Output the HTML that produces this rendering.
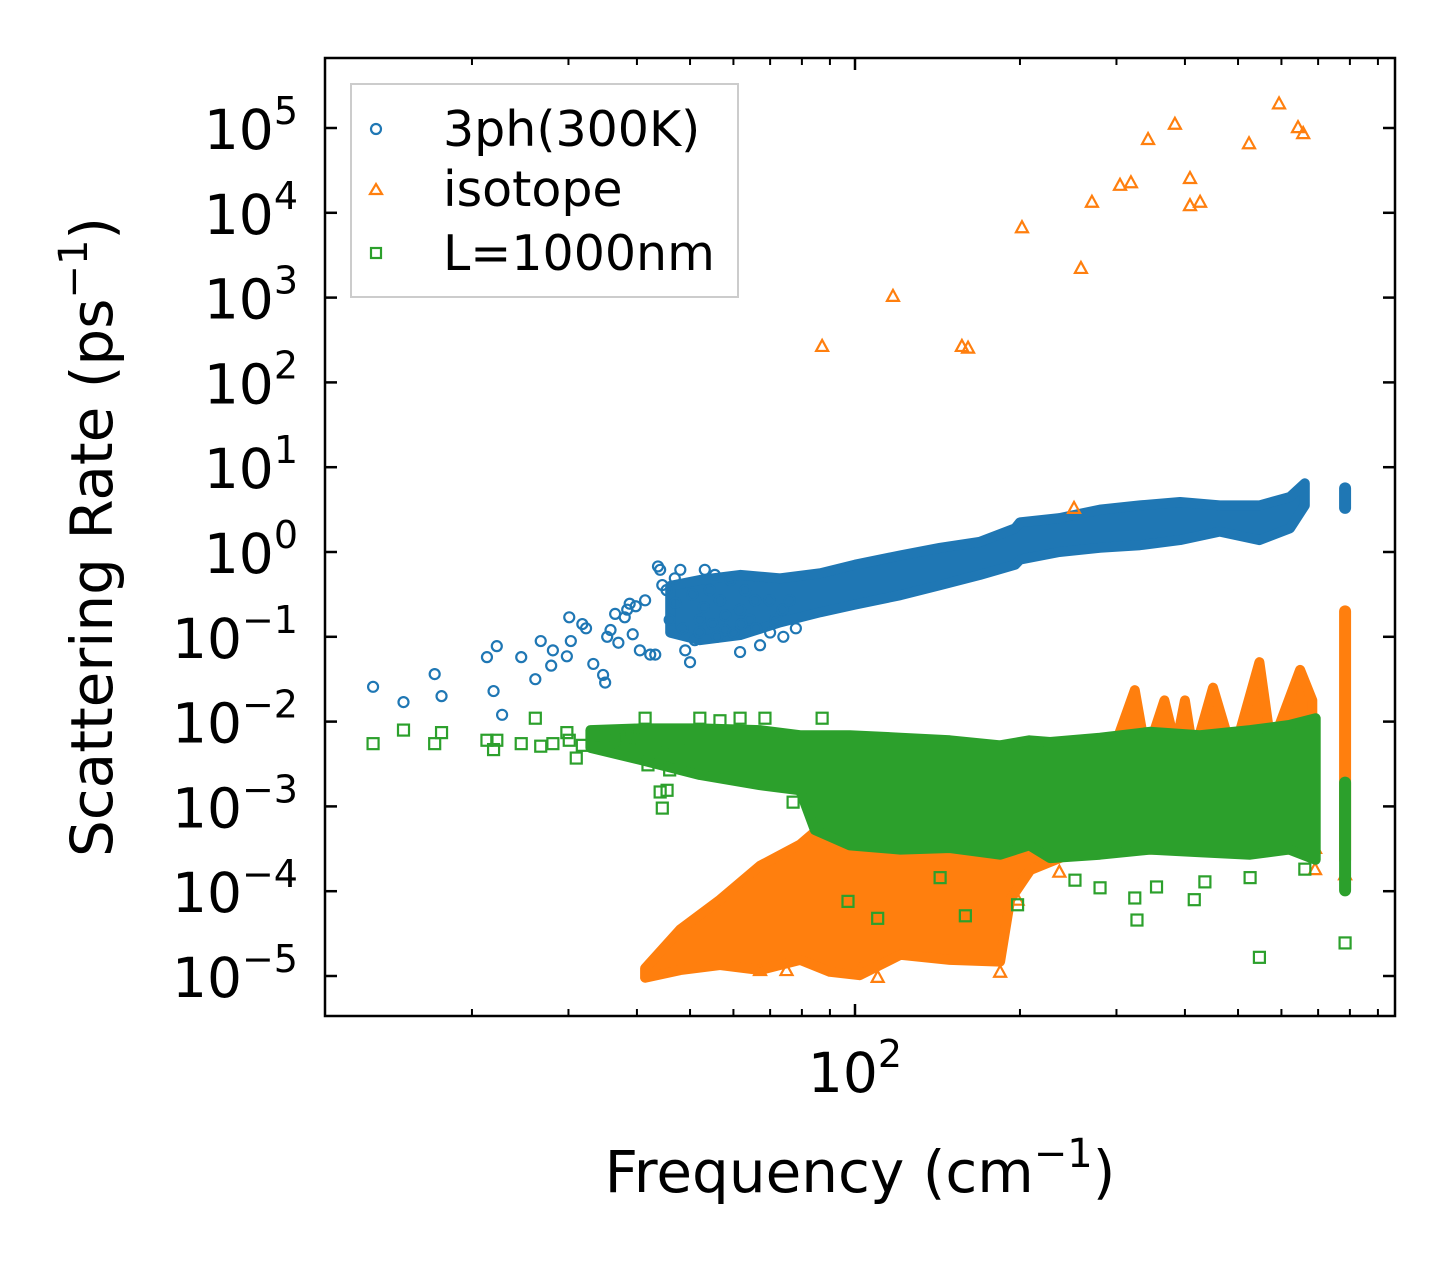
<!DOCTYPE html>
<html><head><meta charset="utf-8"><style>
html,body{margin:0;padding:0;background:#fff;}
svg text{font-family:"DejaVu Sans","Liberation Sans",sans-serif;fill:#000;}
</style></head><body>
<svg id="chart" width="1455" height="1265" viewBox="0 0 1455 1265" xmlns="http://www.w3.org/2000/svg">
<rect width="1455" height="1265" fill="#fff"/>
<defs><clipPath id="plotclip"><rect x="325" y="58" width="1070" height="958"/></clipPath></defs>
<g id="marks" clip-path="url(#plotclip)"></g>
<g id="axes"></g>
<g id="legend">
  <rect x="351" y="84" width="387" height="213" fill="#fff" fill-opacity="0.8" stroke="#ccc" stroke-width="2"/>
  <circle cx="376" cy="129" r="5" fill="none" stroke="#1f77b4" stroke-width="2.2"/>
  <text x="443" y="146" font-size="49">3ph(300K)</text>
  <path d="M370,194 L382,194 L376,184 Z" fill="none" stroke="#ff7f0e" stroke-width="2.2"/>
  <text x="443" y="206" font-size="49">isotope</text>
  <rect x="371" y="248" width="10" height="10" fill="none" stroke="#2ca02c" stroke-width="2.2"/>
  <text x="443" y="270" font-size="49">L=1000nm</text>
</g>
</svg>
<script>
// ---- data (frequency in cm^-1, log10 of scattering rate in ps^-1) ----
const blueFreq = [13.2,15.0,17.1,17.6,21.3,21.9,22.2,22.7,24.6,26.1,26.7,27.9,28.1,29.8,30.3,30.1,31.8,32.3,33.3,34.7,35.0,35.3,35.8,36.5,37.0,38.0,38.4,38.8,39.3,39.8,40.5,41.4,42.3,43.2,43.7,44.1,44.5,45.3,45.9,46.9,48.0,49.0,50.0,51.0,52.1,53.2,54.3,55.5,56.7,57.9,59.2,61.7,61.7,63.0,64.3,65.7,67.1,69.8,71.5,73.7,76.0,47,48.5,50.5,52,53,55,56,58,60,62,66,70,74,78];
const blueLog = [-1.59,-1.77,-1.44,-1.70,-1.24,-1.64,-1.11,-1.92,-1.24,-1.50,-1.05,-1.34,-1.16,-1.23,-1.05,-0.77,-0.85,-0.90,-1.32,-1.45,-1.54,-1.00,-0.92,-0.73,-1.07,-0.77,-0.68,-0.61,-0.97,-0.64,-1.16,-0.57,-1.21,-1.21,-0.17,-0.21,-0.39,-0.45,-0.80,-0.31,-0.21,-1.16,-1.30,-1.04,-0.80,-0.21,-0.45,-0.27,-0.57,-0.92,-0.33,-1.18,-0.68,-0.45,-0.80,-0.57,-1.10,-0.57,-0.80,-0.68,-0.57,-0.6,-0.9,-0.5,-0.95,-0.65,-0.85,-1.0,-0.75,-0.95,-0.85,-0.9,-0.95,-1.0,-0.9];
const blueBandFreq = [46,52.1,61.7,73,86.5,100,121,143,169,196,200,236,280,331,392,463,547,622,662];
const blueBandHi = [-0.40,-0.33,-0.27,-0.31,-0.25,-0.15,-0.04,0.05,0.12,0.28,0.35,0.40,0.50,0.55,0.59,0.55,0.55,0.65,0.81];
const blueBandLo = [-0.95,-1.04,-0.98,-0.83,-0.71,-0.62,-0.51,-0.39,-0.27,-0.15,-0.09,0.0,0.05,0.08,0.14,0.24,0.14,0.28,0.55];
const blueColFreq = [784];
const blueColHi = [0.75];
const blueColLo = [0.52];

const orangeFreq = [87.1,117.3,156.7,160.8,201.7,258.4,270.6,304.5,318.8,342.6,383.5,408.6,408.6,426.3,523.6,594.0,643.3,657.4,251.0,67.1,75,102,110,184,198,236,691,691,784];
const orangeLog = [2.43,3.02,2.43,2.41,3.83,3.35,4.13,4.33,4.36,4.87,5.05,4.41,4.09,4.13,4.82,5.29,5.01,4.94,0.52,-4.93,-4.93,-4.93,-5.01,-4.95,-4.10,-3.77,-3.74,-3.49,-3.80];
const orangeBandFreq = [41.4,48.0,56.7,67.1,79.4,90.0,102,121,149,184,192,209,258,290,324,340,367,385,400,415,450,490,547,575,649,683];
const orangeBandHi = [-4.91,-4.45,-4.10,-3.70,-3.45,-3.15,-3.10,-3.04,-3.04,-3.10,-2.93,-2.81,-2.45,-2.5,-1.63,-2.4,-1.75,-2.3,-1.75,-2.4,-1.60,-2.4,-1.30,-2.3,-1.39,-1.75];
const orangeBandLo = [-5.02,-4.93,-4.87,-4.93,-4.81,-4.95,-4.99,-4.75,-4.81,-4.83,-4.10,-3.75,-3.51,-3.51,-3.51,-3.51,-3.51,-3.51,-3.51,-3.51,-3.51,-3.51,-3.51,-3.51,-3.51,-3.51];
const orangeColFreq = [784];
const orangeColHi = [-0.70];
const orangeColLo = [-3.63];

const greenFreq = [13.2,15.0,17.1,17.6,21.3,21.9,22.2,24.6,26.1,26.7,28.1,29.8,30.1,31.0,31.8,33.3,34.7,36.5,38.0,38.4,38.8,40.5,41.4,41.9,43.2,44.1,44.5,45.4,45.9,46.9,48.0,52.1,56.7,61.7,68.5,87.1,77.1,97.1,110,159,143,198,252,280,324,327,355,416,435,526,547,662,784];
const greenLog = [-2.26,-2.10,-2.26,-2.13,-2.22,-2.33,-2.22,-2.26,-1.96,-2.29,-2.26,-2.13,-2.22,-2.43,-2.28,-2.16,-2.16,-2.16,-2.22,-2.16,-2.18,-2.22,-1.96,-2.51,-2.22,-2.83,-3.02,-2.81,-2.57,-2.39,-2.22,-1.96,-1.99,-1.96,-1.96,-1.96,-2.95,-4.12,-4.32,-4.29,-3.84,-4.16,-3.87,-3.96,-4.08,-4.34,-3.95,-4.10,-3.89,-3.84,-4.78,-3.74,-4.61];
const greenBandFreq = [32.9,40.5,52.1,67.1,79.4,84.5,97.9,121,149,184,208,227,280,345,426,526,620,693];
const greenBandHi = [-2.10,-2.08,-2.08,-2.10,-2.16,-2.16,-2.16,-2.19,-2.22,-2.28,-2.22,-2.24,-2.19,-2.12,-2.16,-2.10,-2.04,-1.96];
const greenBandLo = [-2.31,-2.45,-2.63,-2.75,-2.81,-3.28,-3.46,-3.51,-3.49,-3.57,-3.46,-3.61,-3.57,-3.51,-3.54,-3.57,-3.51,-3.63];
const greenColFreq = [784];
const greenColHi = [-2.72];
const greenColLo = [-3.99];

const yTickExps = [-5,-4,-3,-2,-1,0,1,2,3,4,5];
const yTickLabels = ["10","10","10","10","10","10","10","10","10","10","10"];
const xMajorTicks = [100];
const xMinorTicks = [20,30,40,50,60,70,80,90,200,300,400,500,600,700,800,900];

// ---- scales ----
const X0=325,X1=1395,Y0=58,Y1=1016;
function xs(f){return 855+548*Math.log10(f/100);}
function ys(l){return 552-84.8*l;}
const NS="http://www.w3.org/2000/svg";
const marks=document.getElementById('marks');
const axes=document.getElementById('axes');
function mk(tag,attrs,parent){const e=document.createElementNS(NS,tag);for(const k in attrs)e.setAttribute(k,attrs[k]);parent.appendChild(e);return e;}

function band(fr,hi,lo,color,name){
  let pts=[];
  for(let i=0;i<fr.length;i++)pts.push(xs(fr[i]).toFixed(1)+','+ys(hi[i]).toFixed(1));
  for(let i=fr.length-1;i>=0;i--)pts.push(xs(fr[i]).toFixed(1)+','+ys(lo[i]).toFixed(1));
  const p=mk('polygon',{points:pts.join(' '),fill:color,stroke:color,'stroke-width':10,'stroke-linejoin':'round'},marks);
  
  
}
function column(fr,hi,lo,color,name){
  for(let i=0;i<fr.length;i++){
    const l=mk('line',{x1:xs(fr[i]),x2:xs(fr[i]),y1:ys(hi[i]),y2:ys(lo[i]),stroke:color,'stroke-width':12,'stroke-linecap':'round'},marks);
    
    
  }
}
function circles(fr,lg){
  for(let i=0;i<fr.length;i++){
    const c=mk('circle',{cx:xs(fr[i]),cy:ys(lg[i]),r:5,fill:'none',stroke:'#1f77b4','stroke-width':2.2},marks);
    
    
  }
}
function tris(fr,lg){
  for(let i=0;i<fr.length;i++){
    const x=xs(fr[i]),y=ys(lg[i]);
    const t=mk('path',{d:`M${x-6},${y+5} L${x+6},${y+5} L${x},${y-6} Z`,fill:'none',stroke:'#ff7f0e','stroke-width':2.2},marks);
    
    
  }
}
function squares(fr,lg){
  for(let i=0;i<fr.length;i++){
    const s=mk('rect',{x:xs(fr[i])-5.5,y:ys(lg[i])-5.5,width:11,height:11,fill:'none',stroke:'#2ca02c','stroke-width':2.2},marks);
    
    
  }
}

band(blueBandFreq,blueBandHi,blueBandLo,'#1f77b4','3ph-dense-band');
column(blueColFreq,blueColHi,blueColLo,'#1f77b4','3ph-column');
circles(blueFreq,blueLog);
band(orangeBandFreq,orangeBandHi,orangeBandLo,'#ff7f0e','isotope-dense-band');
column(orangeColFreq,orangeColHi,orangeColLo,'#ff7f0e','isotope-column');
tris(orangeFreq,orangeLog);
band(greenBandFreq,greenBandHi,greenBandLo,'#2ca02c','boundary-dense-band');
column(greenColFreq,greenColHi,greenColLo,'#2ca02c','boundary-column');
squares(greenFreq,greenLog);

// ---- axes ----
const frame=mk('rect',{x:X0,y:Y0,width:X1-X0,height:Y1-Y0,fill:'none',stroke:'#000','stroke-width':2.5},axes);


yTickExps.forEach((e,i)=>{
  const y=ys(e);
  const t1=mk('line',{x1:X0,x2:X0+12,y1:y,y2:y,stroke:'#000','stroke-width':2.5},axes);
  
  
  const t2=mk('line',{x1:X1-12,x2:X1,y1:y,y2:y,stroke:'#000','stroke-width':2.5},axes);
  
  
  const tx=mk('text',{x:298,y:y+21,'font-size':55,'text-anchor':'end'},axes);
  
  
  const base=mk('tspan',{},tx);
  base.textContent=yTickLabels[i];
  const sup=mk('tspan',{dy:-25,'font-size':38},tx);
  sup.textContent=(e<0?'\u2212':'')+Math.abs(e);
});
xMajorTicks.forEach(f=>{
  const x=xs(f);
  const a=mk('line',{x1:x,x2:x,y1:Y1,y2:Y1-12,stroke:'#000','stroke-width':2.5},axes);
  
  
  const b=mk('line',{x1:x,x2:x,y1:Y0,y2:Y0+12,stroke:'#000','stroke-width':2.5},axes);
  
  
  const tx=mk('text',{x:x,y:1092,'font-size':55,'text-anchor':'middle'},axes);
  
  
  const base=mk('tspan',{},tx);
  base.textContent='10';
  const sup=mk('tspan',{dy:-25,'font-size':38},tx);
  sup.textContent=String(Math.round(Math.log10(f)));
});
xMinorTicks.forEach(f=>{
  const x=xs(f);
  const a=mk('line',{x1:x,x2:x,y1:Y1,y2:Y1-7,stroke:'#000','stroke-width':2},axes);
  
  
  const b=mk('line',{x1:x,x2:x,y1:Y0,y2:Y0+7,stroke:'#000','stroke-width':2},axes);
  
  
});
const xl=mk('text',{x:860,y:1192,'font-size':58,'text-anchor':'middle'},axes);


xl.innerHTML='Frequency (cm<tspan dy="-25" font-size="40">\u22121</tspan><tspan dy="25">)</tspan>';
const yl=mk('text',{x:0,y:0,'font-size':58,'text-anchor':'middle',transform:'translate(112,537) rotate(-90)'},axes);


yl.innerHTML='Scattering Rate (ps<tspan dy="-25" font-size="40">\u22121</tspan><tspan dy="25">)</tspan>';
</script>
</body></html>
